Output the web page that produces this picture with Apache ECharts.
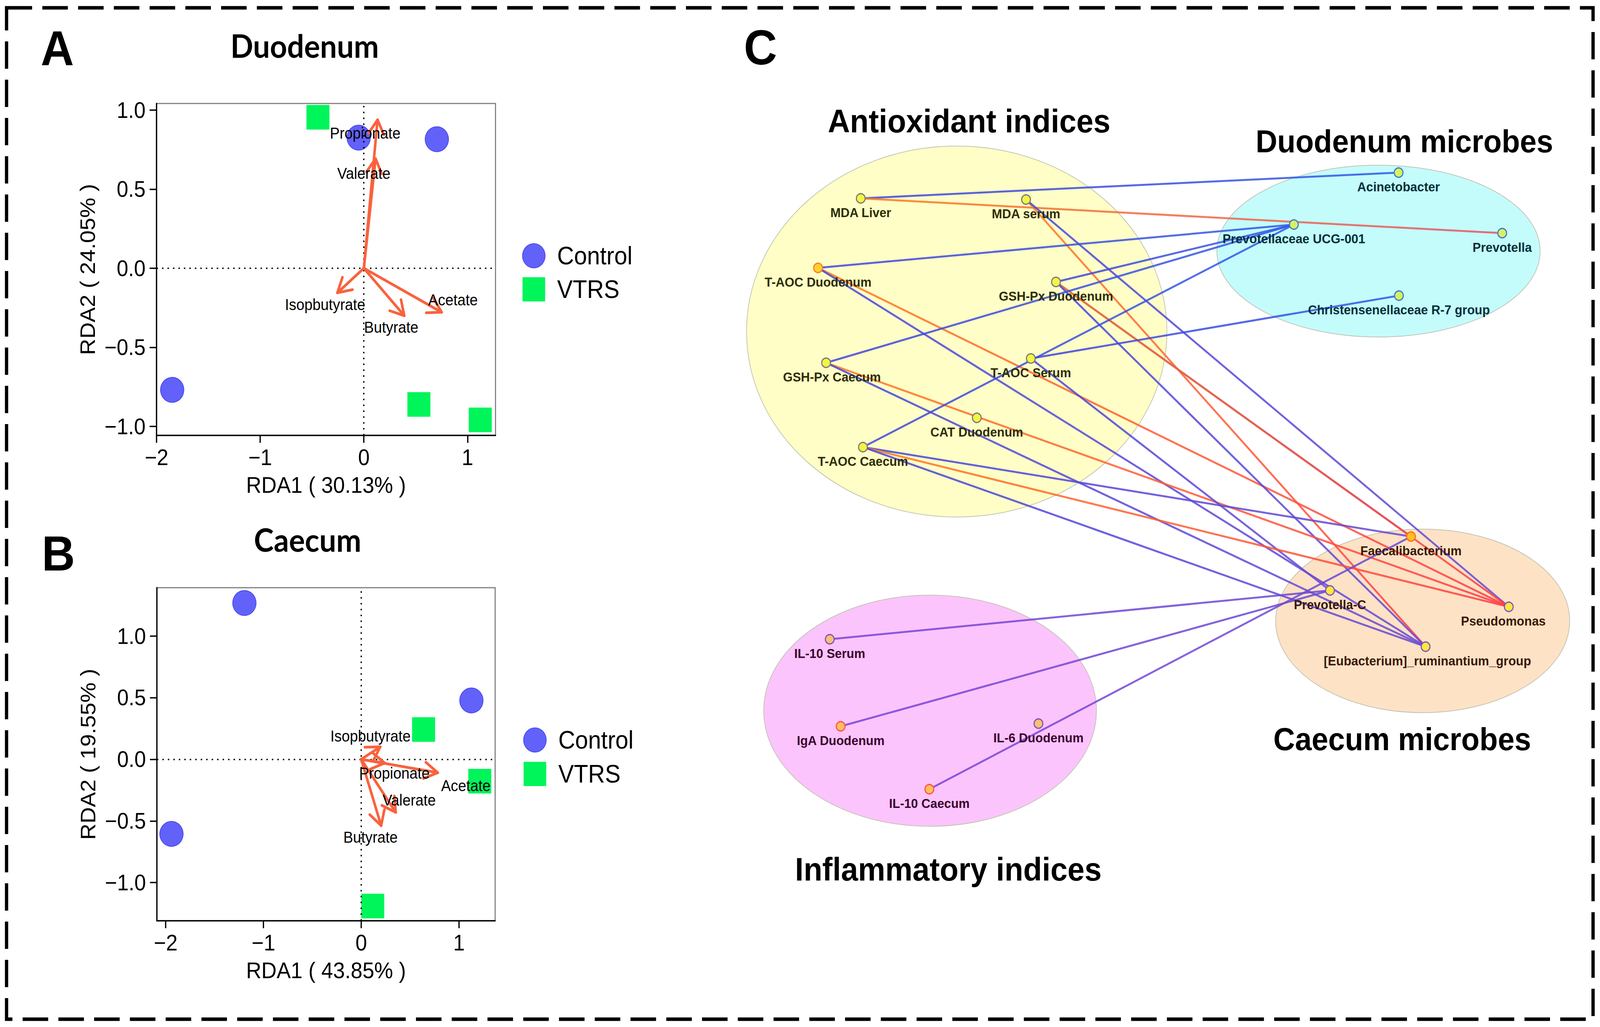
<!DOCTYPE html>
<html><head><meta charset="utf-8">
<script src="https://cdn.jsdelivr.net/npm/echarts@6/dist/echarts.min.js"></script>
<style>html,body{margin:0;padding:0;background:#fff;overflow:hidden}#c{width:4385px;height:2630px;transform-origin:0 0}</style>
</head><body><div id="c"></div>
<script>
// ---------- Panel A (Duodenum RDA) ----------
const aControl = [[-0.05, 0.826], [0.704, 0.816], [-1.849, -0.769]];
const aVTRS = [[-0.443, 0.955], [0.531, -0.861], [1.123, -0.959]];
const aArrowNames = ['Propionate', 'Valerate', 'Isopbutyrate', 'Butyrate', 'Acetate'];
const aArrowTips = [[0.132, 0.939], [0.113, 0.693], [-0.255, -0.155], [0.39, -0.30], [0.75, -0.278]];
const aArrowLabels = [[0.013, 0.853], [0.0, 0.60], [-0.374, -0.231], [0.264, -0.374], [0.86, -0.2]];
const aXName = 'RDA1 ( 30.13% )', aYName = 'RDA2 ( 24.05% )';

// ---------- Panel B (Caecum RDA) ----------
const bControl = [[-1.195, 1.269], [1.127, 0.478], [-1.941, -0.605]];
const bVTRS = [[0.638, 0.242], [1.213, -0.177], [0.118, -1.19]];
const bArrowNames = ['Isopbutyrate', 'Propionate', 'Acetate', 'Valerate', 'Butyrate'];
const bArrowTips = [[0.195, 0.102], [0.24, -0.03], [0.783, -0.108], [0.353, -0.43], [0.204, -0.538]];
const bArrowLabels = [[0.095, 0.188], [0.34, -0.113], [1.07, -0.215], [0.49, -0.33], [0.095, -0.632]];
const bXName = 'RDA1 ( 43.85% )', bYName = 'RDA2 ( 19.55% )';

const xTicks = [-2, -1, 0, 1];
const yTicks = [-1, -0.5, 0, 0.5, 1];

// ---------- Panel C (network) ----------
const groupNames = ['Antioxidant indices', 'Duodenum microbes', 'Caecum microbes', 'Inflammatory indices'];
const groupEllipses = [[2622, 849, 576, 475], [3778, 643, 443, 220], [3899, 1590, 403, 235], [2549, 1820, 456, 296]];
const nodeNames = ['MDA Liver', 'MDA serum', 'T-AOC Duodenum', 'GSH-Px Duodenum', 'GSH-Px Caecum', 'T-AOC Serum', 'CAT Duodenum', 'T-AOC Caecum',
  'Acinetobacter', 'Prevotellaceae UCG-001', 'Prevotella', 'Christensenellaceae R-7 group',
  'Faecalibacterium', 'Prevotella-C', 'Pseudomonas', '[Eubacterium]_ruminantium_group',
  'IL-10 Serum', 'IgA Duodenum', 'IL-6 Duodenum', 'IL-10 Caecum'];
const nodeXY = [[2359, 508], [2812, 511], [2242, 686], [2894, 722], [2264, 929], [2825, 918], [2677, 1070], [2365, 1145],
  [3833, 442], [3546, 575], [4117, 597], [3834, 757],
  [3867, 1374], [3645, 1512], [4135, 1554], [3907, 1656],
  [2274, 1637], [2304, 1860], [2846, 1853], [2547, 2021]];
const nodeGroup = [0, 0, 0, 0, 0, 0, 0, 0, 1, 1, 1, 1, 2, 2, 2, 2, 3, 3, 3, 3];
// edges: [source, target, sign] (+1 positive / -1 negative correlation)
const edges = [
  ['MDA Liver', 'Acinetobacter', -1], ['MDA Liver', 'Prevotella', 1],
  ['MDA serum', '[Eubacterium]_ruminantium_group', 1], ['MDA serum', 'Pseudomonas', -1],
  ['T-AOC Duodenum', 'Prevotellaceae UCG-001', -1], ['T-AOC Duodenum', 'Pseudomonas', 1], ['T-AOC Duodenum', '[Eubacterium]_ruminantium_group', -1],
  ['GSH-Px Duodenum', 'Prevotellaceae UCG-001', -1], ['GSH-Px Duodenum', 'Faecalibacterium', -1], ['GSH-Px Duodenum', 'Pseudomonas', 1], ['GSH-Px Duodenum', '[Eubacterium]_ruminantium_group', -1],
  ['GSH-Px Caecum', 'Prevotellaceae UCG-001', -1], ['GSH-Px Caecum', 'Pseudomonas', 1], ['GSH-Px Caecum', '[Eubacterium]_ruminantium_group', -1],
  ['T-AOC Serum', 'Christensenellaceae R-7 group', -1], ['T-AOC Serum', 'Prevotella-C', -1],
  ['T-AOC Caecum', 'Prevotellaceae UCG-001', -1], ['T-AOC Caecum', 'Faecalibacterium', -1], ['T-AOC Caecum', 'Pseudomonas', 1], ['T-AOC Caecum', '[Eubacterium]_ruminantium_group', -1],
  ['IL-10 Serum', 'Prevotella-C', -1], ['IgA Duodenum', 'Prevotella-C', -1], ['IL-10 Caecum', 'Faecalibacterium', -1]
];

// ---------- styles ----------
const FONT = 'Liberation Sans';
const ellipseFill = ['#fefec6', '#c4fcfc', '#fde2c6', '#fcc4fc'];
const labelColor = ['#2e2e08', '#03303a', '#3a1a05', '#3a0530'];
const nodeFill = ['#f4f444', '#d8f060', '#ffe640', '#f8c070'];
const nodeBorder = ['#7a7a7a', '#3a7ad0', '#7a5ab8', '#8050c0'];
const nodeSpecial = {
  'T-AOC Duodenum': ['#ffd030', '#ff7a20'], 'Faecalibacterium': ['#ffc020', '#ff6a20'],
  'IgA Duodenum': ['#ffc060', '#ff5040'], 'IL-10 Caecum': ['#ffc060', '#ff5040']
};
const labelOffset = { 'GSH-Px Caecum': [16, 0], 'Pseudomonas': [-15, 0], '[Eubacterium]_ruminantium_group': [5, 0] };

// fit the 4385x2630 design to the actual viewport
(function () {
  const el = document.getElementById('c');
  const sx = window.innerWidth / 4385, sy = window.innerHeight / 2630;
  el.style.transform = 'scale(' + sx + ',' + sy + ')';
})();

const fmt = (v, d) => (v < 0 ? '\u2212' + Math.abs(v).toFixed(d) : v.toFixed(d));

function xAxisCfg(g, min, max, name) {
  return {
    type: 'value', gridIndex: g, min: min, max: max, name: name, nameLocation: 'middle', nameGap: 98,
    nameTextStyle: { fontSize: 58, fontFamily: FONT, color: '#000' },
    axisLine: { show: true, onZero: false, lineStyle: { color: '#000', width: 3.5 } },
    axisTick: { show: true, length: 19, customValues: xTicks, lineStyle: { color: '#000', width: 3.5 } },
    axisLabel: { customValues: xTicks, fontSize: 57, margin: 28, color: '#000', fontFamily: FONT, formatter: v => fmt(v, 0) },
    splitLine: { show: false }
  };
}
function yAxisCfg(g, min, max, name) {
  return {
    type: 'value', gridIndex: g, min: min, max: max, name: name, nameLocation: 'middle', nameGap: 160, nameRotate: 90,
    nameTextStyle: { fontSize: 58, fontFamily: FONT, color: '#000' },
    axisLine: { show: true, onZero: false, lineStyle: { color: '#000', width: 3.5 } },
    axisTick: { show: true, length: 19, customValues: yTicks, lineStyle: { color: '#000', width: 3.5 } },
    axisLabel: { customValues: yTicks, fontSize: 57, margin: 30, color: '#000', fontFamily: FONT, formatter: v => fmt(v, 1) },
    splitLine: { show: false }
  };
}
const zeroLines = {
  silent: true, symbol: ['none', 'none'], label: { show: false },
  lineStyle: { type: [4, 11], color: '#000', width: 3.5 },
  data: [{ xAxis: 0 }, { yAxis: 0 }]
};
function scatterPair(g, ctrl, vtrs) {
  return [
    { name: 'Control', type: 'scatter', xAxisIndex: g, yAxisIndex: g, data: ctrl, symbol: 'circle', symbolSize: 64, z: 3,
      itemStyle: { color: '#6262fa', borderColor: '#4848ee', borderWidth: 2, opacity: 1 }, markLine: zeroLines },
    { name: 'VTRS', type: 'scatter', xAxisIndex: g, yAxisIndex: g, data: vtrs, symbol: 'rect', symbolSize: 63, z: 3,
      itemStyle: { color: '#00f55a', opacity: 1 } }
  ];
}
function arrowSeries(g, tips, labels, names) {
  return {
    type: 'custom', xAxisIndex: g, yAxisIndex: g, z: 5, silent: true,
    data: tips.map((t, i) => [t[0], t[1], labels[i][0], labels[i][1]]),
    encode: { x: 0, y: 1 },
    renderItem: (params, api) => {
      const o = api.coord([0, 0]);
      const t = api.coord([api.value(0), api.value(1)]);
      const l = api.coord([api.value(2), api.value(3)]);
      const ang = Math.atan2(t[1] - o[1], t[0] - o[0]);
      const L = 42, a = Math.PI / 6;
      const h1 = [t[0] - L * Math.cos(ang - a), t[1] - L * Math.sin(ang - a)];
      const h2 = [t[0] - L * Math.cos(ang + a), t[1] - L * Math.sin(ang + a)];
      const st = { stroke: '#f9623e', lineWidth: 7, lineCap: 'round', lineJoin: 'round' };
      return {
        type: 'group', children: [
          { type: 'line', shape: { x1: o[0], y1: o[1], x2: t[0], y2: t[1] }, style: st },
          { type: 'polyline', shape: { points: [h1, t, h2] }, style: Object.assign({ fill: 'none' }, st) },
          { type: 'text', x: l[0], y: l[1], z2: 10, style: { text: names[params.dataIndex], fill: '#000', fontSize: 40, fontFamily: FONT, align: 'center', verticalAlign: 'middle' } }
        ]
      };
    }
  };
}

// network data built from arrays
const nodeIndex = {};
nodeNames.forEach((n, i) => nodeIndex[n] = i);
const graphNodes = nodeNames.map((n, i) => {
  const g = nodeGroup[i];
  const sp = nodeSpecial[n];
  return {
    name: n, value: nodeXY[i],
    itemStyle: { color: sp ? sp[0] : nodeFill[g], borderColor: sp ? sp[1] : nodeBorder[g], borderWidth: 3 },
    label: { color: labelColor[g], offset: labelOffset[n] || [0, 0] }
  };
});
const graphLinks = edges.map(e => {
  const s = nodeXY[nodeIndex[e[0]]], t = nodeXY[nodeIndex[e[1]]];
  const tg = nodeGroup[nodeIndex[e[1]]], sg = nodeGroup[nodeIndex[e[0]]];
  let c0, c1;
  if (e[2] > 0) { c0 = '#ff7a1e'; c1 = tg === 1 ? '#e05868' : '#ff3c46'; }
  else { c0 = sg === 3 ? '#7a44d8' : '#4444dc'; c1 = tg === 1 ? '#2f5ae6' : '#6a4ad2'; }
  return {
    source: e[0], target: e[1],
    lineStyle: { width: 5, opacity: 0.85, color: { type: 'linear', x: s[0], y: s[1], x2: t[0], y2: t[1], global: true, colorStops: [{ offset: 0, color: c0 }, { offset: 1, color: c1 }] } }
  };
});

const chart = echarts.init(document.getElementById('c'), null, { renderer: 'svg', width: 4385, height: 2630 });
const titleFont = { fontFamily: 'Lato', fontWeight: 'bold', fontSize: 82 };
function txt(text, x, y, font) {
  return { type: 'text', x: x, y: y, z: 50, style: Object.assign({ text: text, fill: '#000', align: 'center', verticalAlign: 'middle', textAlign: 'center', textVerticalAlign: 'middle' }, font) };
}
const option = {
  animation: false,
  backgroundColor: '#fff',
  grid: [
    { left: 429, top: 265, width: 929, height: 850, show: true, borderColor: '#808080', borderWidth: 3 },
    { left: 430, top: 1505, width: 927, height: 853, show: true, borderColor: '#808080', borderWidth: 3 },
    { left: 0, top: 0, width: 4385, height: 2630, show: false }
  ],
  xAxis: [
    xAxisCfg(0, -2, 1.27, aXName),
    xAxisCfg(1, -2.09, 1.37, bXName),
    { type: 'value', gridIndex: 2, min: 0, max: 4385, show: false }
  ],
  yAxis: [
    yAxisCfg(0, -1.057, 1.042, aYName),
    yAxisCfg(1, -1.31, 1.393, bYName),
    { type: 'value', gridIndex: 2, min: 0, max: 2630, inverse: true, show: false }
  ],
  legend: [
    { orient: 'vertical', left: 1426, top: 618, itemWidth: 62, itemHeight: 62, itemGap: 22, selectedMode: false,
      data: [{ name: 'Control', icon: 'circle' }, { name: 'VTRS', icon: 'rect' }],
      textStyle: { fontSize: 64, fontFamily: FONT, color: '#000', padding: [0, 0, 0, 28] } },
    { orient: 'vertical', left: 1429, top: 1858, itemWidth: 62, itemHeight: 62, itemGap: 23, selectedMode: false,
      data: [{ name: 'Control', icon: 'circle' }, { name: 'VTRS', icon: 'rect' }],
      textStyle: { fontSize: 64, fontFamily: FONT, color: '#000', padding: [0, 0, 0, 28] } }
  ],
  graphic: [
    { type: 'rect', z: 40, shape: { x: 18, y: 20, width: 4348, height: 2590 }, style: { fill: 'none', stroke: '#000', lineWidth: 9, lineDash: [70, 28] } },
    txt('A', 157, 124, { fontFamily: FONT, fontWeight: 'bold', fontSize: 126 }),
    txt('B', 160, 1418, { fontFamily: FONT, fontWeight: 'bold', fontSize: 126 }),
    txt('C', 2084, 122, { fontFamily: FONT, fontWeight: 'bold', fontSize: 126 }),
    txt('Duodenum', 835, 116, titleFont),
    txt('Caecum', 843, 1381, titleFont),
    txt(groupNames[0], 2656, 310, { fontFamily: FONT, fontWeight: 'bold', fontSize: 84 }),
    txt(groupNames[1], 3849, 362, { fontFamily: FONT, fontWeight: 'bold', fontSize: 82 }),
    txt(groupNames[2], 3843, 1893, { fontFamily: FONT, fontWeight: 'bold', fontSize: 82 }),
    txt(groupNames[3], 2599, 2226, { fontFamily: FONT, fontWeight: 'bold', fontSize: 84 })
  ],
  series: [
    ...scatterPair(0, aControl, aVTRS),
    arrowSeries(0, aArrowTips, aArrowLabels, aArrowNames),
    ...scatterPair(1, bControl, bVTRS),
    arrowSeries(1, bArrowTips, bArrowLabels, bArrowNames),
    {
      type: 'custom', xAxisIndex: 2, yAxisIndex: 2, z: 1, silent: true,
      data: groupEllipses, encode: { x: 0, y: 1 },
      renderItem: (params, api) => {
        const c = api.coord([api.value(0), api.value(1)]);
        const s = api.size([api.value(2), api.value(3)]);
        return { type: 'ellipse', shape: { cx: c[0], cy: c[1], rx: s[0], ry: s[1] }, style: { fill: ellipseFill[params.dataIndex], stroke: '#c4c4b4', lineWidth: 2 } };
      }
    },
    {
      type: 'graph', coordinateSystem: 'cartesian2d', xAxisIndex: 2, yAxisIndex: 2, layout: 'none', z: 3, silent: true,
      symbol: 'circle', symbolSize: 24,
      label: { show: true, position: 'bottom', distance: 6, fontSize: 34, fontWeight: 'bold', fontFamily: FONT, formatter: '{b}' },
      edgeSymbol: ['none', 'none'],
      data: graphNodes, links: graphLinks,
      emphasis: { disabled: true }
    }
  ]
};
chart.setOption(option);
</script></body></html>
